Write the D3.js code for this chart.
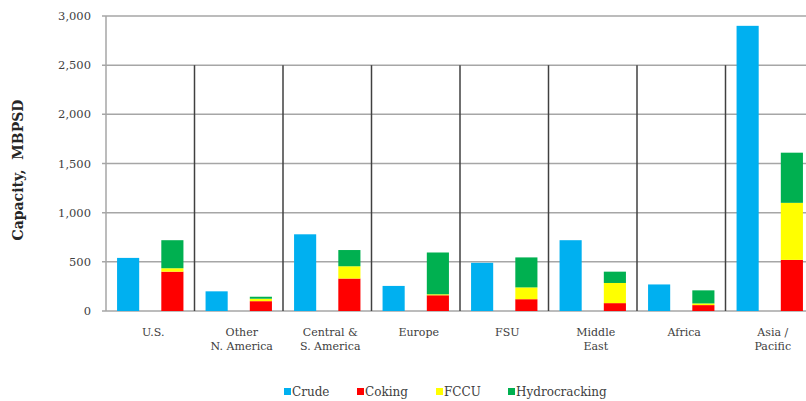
<!DOCTYPE html>
<html>
<head>
<meta charset="utf-8">
<script src="https://cdn.jsdelivr.net/npm/d3@7"></script>
<style>
  body { margin: 0; background: #fff; }
  svg { display: block; }
</style>
</head>
<body>
<div id="chart"></div>
<script>
// 数据
var regions = ['U.S.', 'Other\nN. America', 'Central &\nS. America', 'Europe', 'FSU', 'Middle\nEast', 'Africa', 'Asia /\nPacific'];
var crude = [540, 200, 780, 255, 490, 720, 270, 2900];
var coking = [400, 100, 330, 160, 120, 80, 60, 520];
var fccu = [35, 25, 125, 10, 120, 205, 17, 580];
var hydrocracking = [285, 20, 165, 425, 305, 115, 133, 510];
var yTicks = [0, 500, 1000, 1500, 2000, 2500, 3000];
var seriesNames = ['Crude', 'Coking', 'FCCU', 'Hydrocracking'];
var seriesColors = ['#00B0F0', '#FF0000', '#FFFF00', '#00B050'];

var config = {
  width: 806,
  height: 401,
  left: 106,
  top: 16,
  bottom: 311,
  groupWidth: 88.5,
  font: '"DejaVu Serif", "Liberation Serif", serif'
};

var svg = d3.select('#chart')
  .append('svg')
  .attr('width', config.width)
  .attr('height', config.height);

// 比例尺
var y = d3.scaleLinear()
  .domain([0, 3000])
  .range([config.bottom, config.top]);

var x0 = d3.scaleBand()
  .domain(d3.range(regions.length))
  .range([config.left, config.left + config.groupWidth * regions.length])
  .paddingInner(0);

var x1 = d3.scaleBand()
  .domain(['crude', 'units'])
  .range([0, x0.bandwidth()])
  .paddingInner(0.5)
  .paddingOuter(0.25);

// 网格线
svg.append('g')
  .selectAll('line')
  .data(yTicks)
  .enter()
  .append('line')
  .attr('x1', config.left - 4)
  .attr('x2', config.width)
  .attr('y1', function(d) { return y(d); })
  .attr('y2', function(d) { return y(d); })
  .attr('stroke', '#a6a6a6')
  .attr('stroke-width', 1.5);

// y轴竖线
svg.append('line')
  .attr('x1', config.left)
  .attr('x2', config.left)
  .attr('y1', y(3000))
  .attr('y2', y(0))
  .attr('stroke', '#a6a6a6')
  .attr('stroke-width', 1.5);

// y轴文字
svg.append('g')
  .selectAll('text')
  .data(yTicks)
  .enter()
  .append('text')
  .attr('x', config.left - 15)
  .attr('y', function(d) { return y(d); })
  .attr('dy', '0.35em')
  .attr('text-anchor', 'end')
  .attr('style', 'font-family:' + config.font + ';font-size:11.5px;fill:#404040;')
  .text(function(d) { return d3.format(',')(d); });

svg.append('text')
  .attr('transform', 'translate(23,170) rotate(-90)')
  .attr('text-anchor', 'middle')
  .attr('style', 'font-family:' + config.font + ';font-size:14px;font-weight:bold;fill:#262626;white-space:pre;')
  .text('Capacity,  MBPSD');

// 分隔竖线
svg.append('g')
  .selectAll('line')
  .data(d3.range(1, regions.length))
  .enter()
  .append('line')
  .attr('x1', function(d) { return x0(d); })
  .attr('x2', function(d) { return x0(d); })
  .attr('y1', y(2500))
  .attr('y2', y(0))
  .attr('stroke', '#404040')
  .attr('stroke-width', 1.5);

// 原油柱
svg.append('g')
  .selectAll('rect')
  .data(crude)
  .enter()
  .append('rect')
  .attr('x', function(d, i) { return x0(i) + x1('crude'); })
  .attr('y', function(d) { return y(d); })
  .attr('width', x1.bandwidth())
  .attr('height', function(d) { return y(0) - y(d); })
  .attr('fill', seriesColors[0]);

// 堆叠柱
var stackData = regions.map(function(r, i) {
  return { i: i, Coking: coking[i], FCCU: fccu[i], Hydrocracking: hydrocracking[i] };
});
var stack = d3.stack().keys(['Coking', 'FCCU', 'Hydrocracking'])(stackData);

svg.append('g')
  .selectAll('g')
  .data(stack)
  .enter()
  .append('g')
  .attr('fill', function(d, k) { return seriesColors[k + 1]; })
  .selectAll('rect')
  .data(function(d) { return d; })
  .enter()
  .append('rect')
  .attr('x', function(d) { return x0(d.data.i) + x1('units'); })
  .attr('y', function(d) { return y(d[1]); })
  .attr('width', x1.bandwidth())
  .attr('height', function(d) { return y(d[0]) - y(d[1]); });

// 类别标签
var labels = svg.append('g')
  .selectAll('text')
  .data(regions)
  .enter()
  .append('text')
  .attr('text-anchor', 'middle')
  .attr('style', 'font-family:' + config.font + ';font-size:11px;fill:#404040;')
  .attr('transform', function(d, i) {
    return 'translate(' + (x0(i) + x0.bandwidth() / 2 + 3) + ',336)';
  });

labels.selectAll('tspan')
  .data(function(d) { return d.split('\n'); })
  .enter()
  .append('tspan')
  .attr('x', 0)
  .attr('dy', function(d, j) { return j === 0 ? 0 : 14; })
  .text(function(d) { return d; });

// 图例
var legendX = [284, 357, 436, 508];
var legend = svg.append('g')
  .selectAll('g')
  .data(seriesNames)
  .enter()
  .append('g')
  .attr('transform', function(d, i) { return 'translate(' + legendX[i] + ',388)'; });

legend.append('rect')
  .attr('width', 7)
  .attr('height', 7)
  .attr('fill', function(d, i) { return seriesColors[i]; });

legend.append('text')
  .attr('x', 8)
  .attr('y', 4)
  .attr('dy', '0.35em')
  .attr('style', 'font-family:' + config.font + ';font-size:12px;fill:#404040;')
  .text(function(d) { return d; });
</script>
</body>
</html>
